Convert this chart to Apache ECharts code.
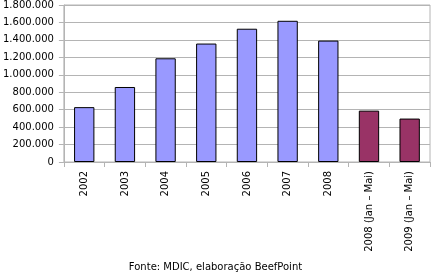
<!DOCTYPE html>
<html><head><meta charset="utf-8">
<script src="https://cdn.jsdelivr.net/npm/echarts@6/dist/echarts.min.js"></script>
<style>html,body{margin:0;padding:0;background:#fff}#c{width:431px;height:277px}</style>
</head><body><div id="c"></div>
<script>
const categories = ['2002','2003','2004','2005','2006','2007','2008','2008 (Jan – Mai)','2009 (Jan – Mai)'];
const values = [629000, 860000, 1189000, 1358000, 1528000, 1619000, 1392000, 589000, 498000];
const barColors = ['#9999FF','#9999FF','#9999FF','#9999FF','#9999FF','#9999FF','#9999FF','#993366','#993366'];
const yTicks = [0,200000,400000,600000,800000,1000000,1200000,1400000,1600000,1800000];
const source = 'Fonte: MDIC, elaboração BeefPoint';

function fmt(v){ return String(v).replace(/\B(?=(\d{3})+(?!\d))/g,'.'); }

const chart = echarts.init(document.getElementById('c'), null, {renderer:'canvas'});
chart.setOption({
  animation:false,
  backgroundColor:'#fff',
  textStyle:{fontFamily:'DejaVu Sans'},
  title:{text:source,left:'center',top:261,padding:0,textStyle:{fontSize:10,lineHeight:12,fontWeight:'normal',color:'#000',fontFamily:'DejaVu Sans'}},
  grid:{left:63,right:1,top:3,bottom:115,show:true,borderColor:'#B4B4B4',borderWidth:1},
  xAxis:{type:'category',data:categories,
    axisLine:{lineStyle:{color:'#B4B4B4'}},
    axisTick:{show:true,length:5,lineStyle:{color:'#B4B4B4'},alignWithLabel:false},
    axisLabel:{rotate:90,fontSize:10,color:'#000',margin:9,interval:0,fontFamily:'DejaVu Sans'}},
  yAxis:{type:'value',min:yTicks[0],max:yTicks[yTicks.length-1],interval:200000,
    axisLine:{show:true,lineStyle:{color:'#B4B4B4'}},
    axisTick:{show:true,length:5,lineStyle:{color:'#B4B4B4'}},
    splitLine:{lineStyle:{color:'#B4B4B4'}},
    axisLabel:{fontSize:10,color:'#000',margin:10,formatter:fmt,fontFamily:'DejaVu Sans'}},
  series:[{type:'bar',barWidth:'50%',
    data:values.map((v,i)=>({value:v,itemStyle:{color:barColors[i]}})),
    itemStyle:{borderColor:'#000',borderWidth:1}}]
});
</script></body></html>
